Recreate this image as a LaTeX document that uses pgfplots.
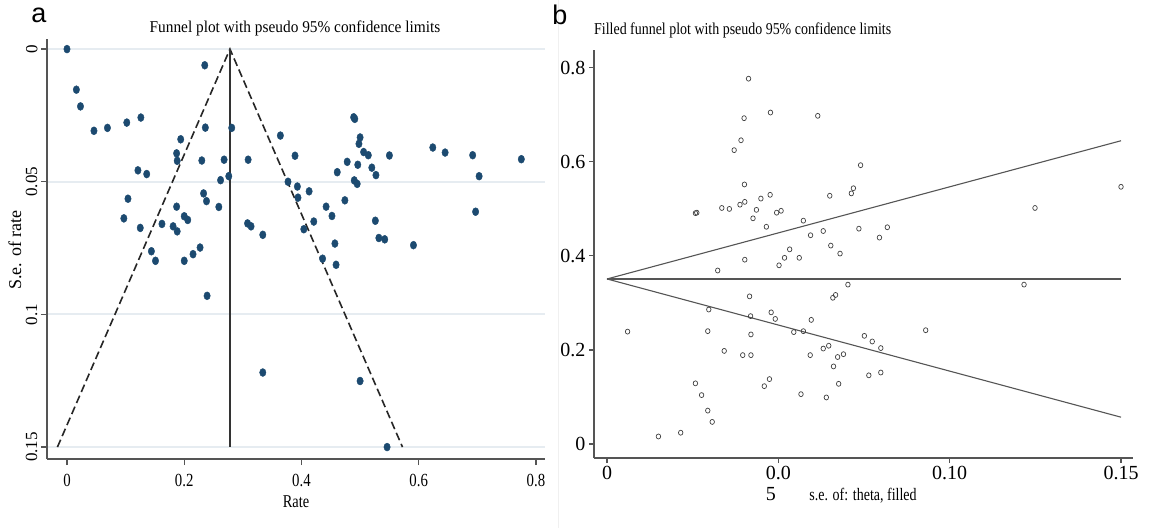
\documentclass[border=0pt]{standalone}
\usepackage{pgfplots}
\pgfplotsset{compat=1.18}
\usepackage{fontspec}
\setmainfont{Liberation Serif}
\newfontfamily\tafont{Liberation Serif}[FakeStretch=0.93]
\newfontfamily\tbfont{Liberation Serif}[FakeStretch=0.84]
\newfontfamily\nafont{Liberation Serif}[FakeStretch=0.8]
\newfontfamily\panelfont{Liberation Sans}

\definecolor{dotblue}{RGB}{28,74,112}
\definecolor{axgray}{RGB}{85,85,85}
\definecolor{gridc}{RGB}{230,236,241}

% panel a: rate vs standard error
\pgfplotstableread{
x se
0.000 0.0000
0.235 0.0061
0.016 0.0153
0.023 0.0216
0.046 0.0308
0.069 0.0297
0.102 0.0277
0.126 0.0258
0.236 0.0296
0.281 0.0297
0.194 0.0340
0.364 0.0326
0.489 0.0257
0.491 0.0263
0.500 0.0333
0.498 0.0357
0.506 0.0388
0.514 0.0400
0.550 0.0401
0.624 0.0371
0.645 0.0390
0.692 0.0400
0.775 0.0415
0.703 0.0479
0.697 0.0613
0.187 0.0393
0.188 0.0421
0.230 0.0420
0.268 0.0417
0.309 0.0417
0.389 0.0402
0.478 0.0425
0.496 0.0436
0.520 0.0447
0.527 0.0475
0.461 0.0464
0.490 0.0495
0.495 0.0508
0.121 0.0457
0.136 0.0471
0.262 0.0494
0.276 0.0479
0.377 0.0500
0.393 0.0518
0.394 0.0560
0.413 0.0536
0.474 0.0570
0.104 0.0564
0.233 0.0544
0.238 0.0573
0.259 0.0595
0.187 0.0594
0.442 0.0594
0.452 0.0629
0.097 0.0638
0.125 0.0674
0.162 0.0659
0.181 0.0668
0.188 0.0687
0.200 0.0630
0.206 0.0644
0.308 0.0657
0.314 0.0668
0.334 0.0700
0.404 0.0679
0.421 0.0650
0.526 0.0647
0.532 0.0712
0.542 0.0717
0.591 0.0739
0.457 0.0733
0.144 0.0762
0.227 0.0748
0.215 0.0773
0.200 0.0798
0.151 0.0798
0.436 0.0790
0.459 0.0813
0.239 0.0930
0.334 0.1219
0.500 0.1251
0.546 0.1500
}\ratedata

% panel b: filled funnel, standard error vs theta
\pgfplotstableread{
se theta
0.0413 0.777
0.0477 0.705
0.0615 0.698
0.0400 0.693
0.0391 0.646
0.0371 0.625
0.0740 0.593
0.0401 0.552
0.0719 0.544
0.0713 0.533
0.0650 0.528
0.0476 0.530
0.0449 0.522
0.0402 0.515
0.0388 0.509
0.0258 0.491
0.0262 0.492
0.0335 0.502
0.0357 0.500
0.0436 0.498
0.0495 0.492
0.0508 0.496
0.0426 0.480
0.0573 0.475
0.0465 0.462
0.0735 0.458
0.0818 0.461
0.0631 0.453
0.0594 0.444
0.0795 0.439
0.0653 0.422
0.0533 0.414
0.0680 0.405
0.0518 0.396
0.0561 0.396
0.0402 0.392
0.0502 0.380
0.0323 0.369
0.0703 0.339
0.1217 0.339
0.0416 0.314
0.0659 0.311
0.0667 0.317
0.0297 0.286
0.0479 0.280
0.0419 0.272
0.0491 0.266
0.0596 0.264
0.0060 0.239
0.0294 0.240
0.0545 0.238
0.0573 0.240
0.0930 0.242
0.0420 0.233
0.0751 0.230
0.0774 0.218
0.0799 0.204
0.0631 0.203
0.0647 0.209
0.0342 0.198
0.0396 0.189
0.0420 0.189
0.0593 0.189
0.0673 0.185
0.0690 0.191
0.0661 0.165
0.0764 0.146
0.0799 0.152
0.0474 0.138
0.0459 0.123
0.0258 0.129
0.0676 0.128
0.0276 0.104
0.0566 0.106
0.0640 0.099
0.0294 0.071
0.0307 0.047
0.0215 0.024
0.0150 0.016
0.1249 0.502
0.1500 0.547
}\filleddata

\begin{document}
\begin{tikzpicture}
\fill[white] (0,0) rectangle (1154pt,528pt);
\path[use as bounding box] (0,0) rectangle (1154pt,528pt);
\draw[gray!12, line width=1pt] (558pt,0) -- (558pt,528pt);

% ---- panel a ----
\begin{axis}[
  at={(47pt,69pt)}, anchor=south west,
  scale only axis, width=498pt, height=420pt,
  xmin=-0.0341, xmax=0.8154, ymin=-0.0038, ymax=0.1545,
  y dir=reverse,
  axis x line=bottom, axis y line=left,
  axis line style={-, draw=axgray, line width=1.4pt},
  xtick={0,0.2,0.4,0.6,0.8}, xticklabels={0,0.2,0.4,0.6,0.8},
  ytick={0,0.05,0.1,0.15}, yticklabels={0,0.05,0.1,0.15},
  tick align=outside, major tick length=6pt,
  tick style={draw=axgray, line width=1.2pt},
  ymajorgrids, major grid style={draw=gridc, line width=2pt},
  xticklabel style={font=\nafont\fontsize{18.5}{20}\selectfont, yshift=-6pt},
  yticklabel style={font=\fontsize{17}{20}\selectfont, rotate=90, anchor=south},
]
\addplot[no marks, black!85, line width=1.6pt, dash pattern=on 8pt off 4pt]
  coordinates {(-0.0163,0.15)(0.278,0)(0.5723,0.15)};
\addplot[no marks, black!80, line width=1.6pt]
  coordinates {(0.278,0)(0.278,0.15)};
\addplot[only marks, mark=*, mark size=4pt,
  mark options={xscale=0.8, fill=dotblue, draw=dotblue}]
  table[x=x, y=se] {\ratedata};
\end{axis}

% ---- panel b ----
\begin{axis}[
  at={(594pt,70pt)}, anchor=south west,
  scale only axis, width=539pt, height=408pt,
  xmin=-0.0038, xmax=0.1535, ymin=-0.0298, ymax=0.838,
  axis x line=bottom, axis y line=left,
  axis line style={-, draw=axgray, line width=1.3pt},
  xtick={0,0.05,0.1,0.15}, xticklabels={0,{0.0\\5},0.10,0.15},
  ytick={0,0.2,0.4,0.6,0.8}, yticklabels={0,0.2,0.4,0.6,0.8},
  tick align=outside, major tick length=5pt,
  tick style={draw=axgray, line width=1.1pt},
  xticklabel style={font=\fontsize{20}{21}\selectfont, align=left},
  yticklabel style={font=\fontsize{20}{21}\selectfont},
]
\addplot[no marks, axgray, line width=1.1pt] coordinates {(0,0.351)(0.15,0.645)};
\addplot[no marks, axgray, line width=1.1pt] coordinates {(0,0.351)(0.15,0.351)};
\addplot[no marks, axgray, line width=1.1pt] coordinates {(0,0.351)(0.15,0.057)};
\addplot[only marks, mark=o, mark size=2.5pt,
  mark options={xscale=0.9, draw=black!75, line width=0.7pt}]
  table[x=se, y=theta] {\filleddata};
\end{axis}

% titles and labels
\node[font=\panelfont\fontsize{27}{28}\selectfont, anchor=base] at (39pt,505pt) {a};
\node[font=\panelfont\fontsize{27}{28}\selectfont, anchor=base] at (560pt,503pt) {b};
\node[font=\tafont\fontsize{16.5}{18}\selectfont, anchor=base] at (295pt,495pt)
  {Funnel plot with pseudo 95\% confidence limits};
\node[font=\tbfont\fontsize{16.6}{18}\selectfont, anchor=base west, inner sep=0pt] at (594pt,493pt)
  {Filled funnel plot with pseudo 95\% confidence limits};
\node[font=\fontsize{18}{20}\selectfont, rotate=90] at (15pt,278pt) {S.e. of rate};
\node[font=\nafont\fontsize{18}{20}\selectfont, anchor=base] at (296pt,21pt) {Rate};
\node[font=\nafont\fontsize{17.5}{20}\selectfont, anchor=base] at (863pt,28pt) {s.e. of: theta, filled};
\end{tikzpicture}
\end{document}
